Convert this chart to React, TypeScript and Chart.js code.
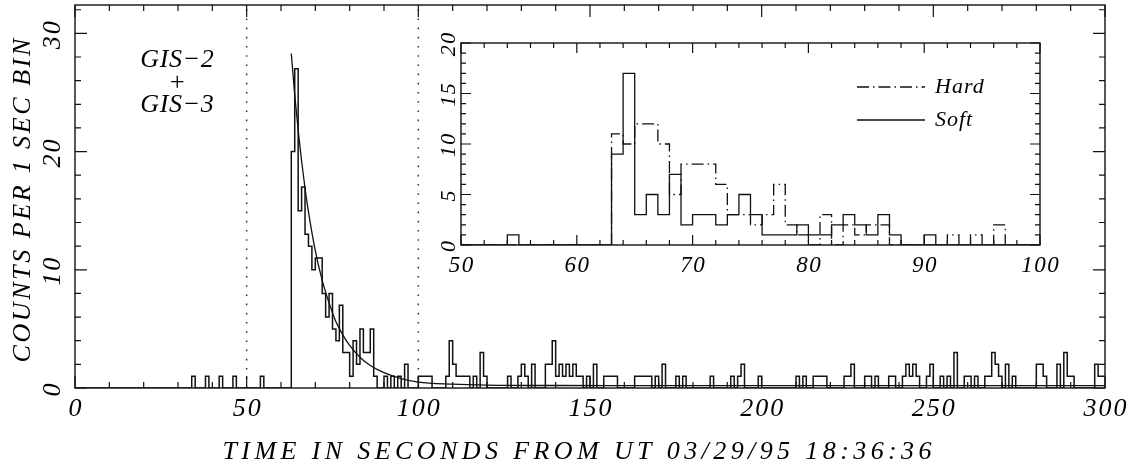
import React, { useEffect, useRef } from 'react';
import { Chart, registerables } from 'chart.js';

Chart.register(...registerables);

// ---------------- data ----------------
// main light curve: counts per 1 s bin, bins start at t = 0,1,2,...,299
const mainStart = 0;
const mainCounts = [
  0, 0, 0, 0, 0, 0, 0, 0, 0, 0,
  0, 0, 0, 0, 0, 0, 0, 0, 0, 0,
  0, 0, 0, 0, 0, 0, 0, 0, 0, 0,
  0, 0, 0, 0, 1, 0, 0, 0, 1, 0,
  0, 0, 1, 0, 0, 0, 1, 0, 0, 0,
  0, 0, 0, 0, 1, 0, 0, 0, 0, 0,
  0, 0, 0, 20, 27, 15, 17, 13, 12, 10,
  11, 11, 8, 6, 8, 5, 4, 7, 3, 3,
  1, 4, 2, 5, 3, 3, 5, 1, 0, 0,
  1, 0, 1, 0, 1, 0, 2, 0, 0, 0,
  1, 1, 1, 1, 0, 0, 0, 0, 1, 4,
  2, 1, 1, 1, 1, 0, 1, 0, 3, 1,
  0, 0, 0, 0, 0, 0, 1, 0, 0, 1,
  2, 1, 0, 2, 0, 0, 0, 2, 2, 4,
  1, 2, 1, 2, 1, 2, 1, 1, 0, 1,
  0, 2, 0, 0, 1, 1, 1, 1, 0, 0,
  0, 0, 0, 1, 1, 1, 1, 1, 0, 1,
  0, 2, 0, 0, 0, 1, 0, 1, 0, 0,
  0, 0, 0, 0, 0, 1, 0, 0, 0, 0,
  0, 1, 0, 1, 2, 0, 0, 0, 0, 1,
  0, 0, 0, 0, 0, 0, 0, 0, 0, 0,
  1, 0, 1, 0, 0, 1, 1, 1, 1, 0,
  0, 0, 0, 0, 1, 1, 2, 0, 0, 0,
  1, 1, 0, 1, 0, 0, 0, 1, 1, 0,
  0, 1, 2, 1, 2, 1, 0, 0, 1, 2,
  0, 0, 1, 0, 1, 0, 3, 0, 0, 1,
  1, 0, 1, 0, 0, 1, 1, 3, 2, 1,
  0, 2, 0, 1, 0, 0, 0, 0, 0, 0,
  2, 2, 1, 0, 0, 0, 2, 0, 3, 1,
  1, 0, 0, 0, 0, 0, 0, 2, 1, 1,
];

// fitted decay model
const modelTimes = [63, 64, 65, 66, 67, 68, 70, 72, 74, 76, 78, 80, 83, 86, 90, 95, 100, 110, 120, 140, 170, 300];
const modelCounts = [28.3, 24.8, 21.8, 19.2, 16.9, 14.9, 11.6, 9.1, 7.2, 5.6, 4.5, 3.6, 2.6, 1.9, 1.3, 0.8, 0.5, 0.33, 0.25, 0.21, 0.2, 0.2];

// dotted marker times
const markerTimes = [50, 100];

// inset: bins start at t = 50 ... 99
const insetStart = 50;
const hardCounts = [
  0, 0, 0, 0, 0, 0, 0, 0, 0, 0,
  0, 0, 0, 11, 10, 12, 12, 10, 5, 8,
  8, 8, 6, 3, 3, 2, 3, 6, 2, 1,
  0, 3, 0, 2, 1, 2, 2, 0, 0, 0,
  0, 0, 1, 0, 1, 0, 2, 0, 0, 0,
];
const softCounts = [
  0, 0, 0, 0, 1, 0, 0, 0, 0, 0,
  0, 0, 0, 9, 17, 3, 5, 3, 7, 2,
  3, 3, 2, 3, 5, 3, 1, 1, 1, 2,
  1, 1, 2, 3, 2, 1, 3, 1, 0, 0,
  1, 0, 0, 0, 0, 0, 0, 0, 0, 0,
];

// tick labels and texts
const mainXTicks = [0, 50, 100, 150, 200, 250, 300];
const mainYTicks = [0, 10, 20, 30];
const insetXTicks = [50, 60, 70, 80, 90, 100];
const insetYTicks = [0, 5, 10, 15, 20];
const detectorLines = ['GIS\u22122', '+', 'GIS\u22123'];
const legendLabels = ['Hard', 'Soft'];
const xTitle = 'TIME IN SECONDS FROM UT 03/29/95 18:36:36';
const yTitle = 'COUNTS PER 1 SEC BIN';

// ---------------- helpers ----------------
const FONT = '"Liberation Serif", "DejaVu Serif", serif';
const INK = '#111';
const HARD_DASH = [12, 4, 1.5, 4];

function histPoints(start: number, counts: number[]) {
  const pts = counts.map((c, i) => ({ x: start + i, y: c }));
  pts.push({ x: start + counts.length, y: counts[counts.length - 1] });
  return pts;
}

function drawText(
  ctx: CanvasRenderingContext2D,
  text: string,
  x: number,
  y: number,
  size: number,
  spacing = 0,
  rotate = false,
  align: CanvasTextAlign = 'center'
) {
  ctx.save();
  ctx.font = `italic ${size}px ${FONT}`;
  (ctx as any).letterSpacing = `${spacing}px`;
  ctx.textAlign = align;
  ctx.textBaseline = 'middle';
  ctx.fillStyle = '#000';
  const shift = align === 'center' ? spacing / 2 : 0;
  ctx.translate(x + (rotate ? 0 : shift), y + (rotate ? shift : 0));
  if (rotate) ctx.rotate(-Math.PI / 2);
  ctx.fillText(text, 0, 0);
  ctx.restore();
}

function drawFrame(
  chart: any,
  xr: [number, number, number, number],
  yr: [number, number, number, number],
  majorLen: number,
  minorLen: number
) {
  const ctx: CanvasRenderingContext2D = chart.ctx;
  const { left, right, top, bottom } = chart.chartArea;
  const xs = chart.scales.x;
  const ys = chart.scales.y;
  ctx.save();
  ctx.strokeStyle = INK;
  ctx.lineWidth = 1.4;
  ctx.strokeRect(left, top, right - left, bottom - top);
  ctx.lineWidth = 1.2;
  ctx.beginPath();
  const [x0, x1, xMinor, xMajor] = xr;
  for (let k = 0; x0 + k * xMinor <= x1 + 1e-9; k++) {
    const v = x0 + k * xMinor;
    const major = Math.abs(v / xMajor - Math.round(v / xMajor)) < 1e-6;
    const len = major ? majorLen : minorLen;
    const px = xs.getPixelForValue(v);
    ctx.moveTo(px, bottom);
    ctx.lineTo(px, bottom - len);
    ctx.moveTo(px, top);
    ctx.lineTo(px, top + len);
  }
  const [y0, y1, yMinor, yMajor] = yr;
  for (let k = 0; y0 + k * yMinor <= y1 + 1e-9; k++) {
    const v = y0 + k * yMinor;
    const major = Math.abs(v / yMajor - Math.round(v / yMajor)) < 1e-6;
    const len = major ? majorLen : minorLen;
    const py = ys.getPixelForValue(v);
    ctx.moveTo(left, py);
    ctx.lineTo(left + len, py);
    ctx.moveTo(right, py);
    ctx.lineTo(right - len, py);
  }
  ctx.stroke();
  ctx.restore();
}

const MAIN_Y_MAX = 32.4;

const mainDecor = {
  id: 'mainDecor',
  afterDraw(chart: any) {
    const ctx: CanvasRenderingContext2D = chart.ctx;
    const xs = chart.scales.x;
    const ys = chart.scales.y;
    drawFrame(chart, [0, 300, 10, 50], [0, MAIN_Y_MAX, 2, 10], 12, 6);
    mainXTicks.forEach((v) => drawText(ctx, String(v), xs.getPixelForValue(v), 409, 26, 2));
    mainYTicks.forEach((v) => drawText(ctx, String(v), 53, ys.getPixelForValue(v), 26, 2, true));
    drawText(ctx, xTitle, 577, 452, 26, 4.4);
    drawText(ctx, yTitle, 23, 198, 26, 2.6, true);
    const gy = [60, 83, 105];
    detectorLines.forEach((s, i) => drawText(ctx, s, 177, gy[i], 26, 0.6));
  },
};

const insetDecor = {
  id: 'insetDecor',
  afterDraw(chart: any) {
    const ctx: CanvasRenderingContext2D = chart.ctx;
    const xs = chart.scales.x;
    const ys = chart.scales.y;
    drawFrame(chart, [50, 100, 2, 10], [0, 20, 1, 5], 10, 5);
    const { left, bottom } = chart.chartArea;
    insetXTicks.forEach((v) => drawText(ctx, String(v), xs.getPixelForValue(v), bottom + 21, 23, 1.5));
    insetYTicks.forEach((v) => drawText(ctx, String(v), left - 12, ys.getPixelForValue(v), 22, 1.5, true));
    // legend
    const lx0 = 457, lx1 = 525, tx = 535;
    const ly = [59, 92];
    ctx.save();
    ctx.strokeStyle = INK;
    ctx.lineWidth = 1.3;
    ctx.setLineDash(HARD_DASH);
    ctx.beginPath();
    ctx.moveTo(lx0, ly[0]);
    ctx.lineTo(lx1, ly[0]);
    ctx.stroke();
    ctx.setLineDash([]);
    ctx.beginPath();
    ctx.moveTo(lx0, ly[1]);
    ctx.lineTo(lx1, ly[1]);
    ctx.stroke();
    ctx.restore();
    legendLabels.forEach((s, i) => drawText(ctx, s, tx, ly[i], 22, 1, false, 'left'));
  },
};

const hidden = { display: false };

export default function App() {
  const mainRef = useRef<HTMLCanvasElement>(null);
  const insetRef = useRef<HTMLCanvasElement>(null);

  useEffect(() => {
    const main = new Chart(mainRef.current!, {
      type: 'line',
      data: {
        datasets: [
          {
            data: histPoints(mainStart, mainCounts),
            stepped: 'before',
            borderColor: INK,
            borderWidth: 1.5,
            pointRadius: 0,
            fill: false,
          },
          {
            data: modelTimes.map((t, i) => ({ x: t, y: modelCounts[i] })),
            cubicInterpolationMode: 'monotone',
            tension: 0.4,
            borderColor: INK,
            borderWidth: 1.3,
            pointRadius: 0,
            fill: false,
          },
          ...markerTimes.map((t) => ({
            data: [
              { x: t, y: 0 },
              { x: t, y: MAIN_Y_MAX },
            ],
            borderColor: '#333',
            borderWidth: 1.5,
            borderDash: [1.6, 7.6],
            pointRadius: 0,
            fill: false,
          })),
        ] as any,
      },
      options: {
        animation: false,
        responsive: true,
        maintainAspectRatio: false,
        events: [],
        layout: { padding: { left: 75, right: 28, top: 5, bottom: 86 } },
        scales: {
          x: { type: 'linear', min: 0, max: 300, ...hidden },
          y: { type: 'linear', min: 0, max: MAIN_Y_MAX, ...hidden },
        },
        plugins: { legend: { display: false }, tooltip: { enabled: false } },
      },
      plugins: [mainDecor],
    });

    const inset = new Chart(insetRef.current!, {
      type: 'line',
      data: {
        datasets: [
          {
            data: histPoints(insetStart, hardCounts),
            stepped: 'before',
            borderColor: INK,
            borderWidth: 1.3,
            borderDash: HARD_DASH,
            pointRadius: 0,
            fill: false,
          },
          {
            data: histPoints(insetStart, softCounts),
            stepped: 'before',
            borderColor: INK,
            borderWidth: 1.3,
            pointRadius: 0,
            fill: false,
          },
        ] as any,
      },
      options: {
        animation: false,
        responsive: true,
        maintainAspectRatio: false,
        events: [],
        layout: { padding: { left: 61, right: 40, top: 15, bottom: 45 } },
        scales: {
          x: { type: 'linear', min: 50, max: 100, ...hidden },
          y: { type: 'linear', min: 0, max: 20, ...hidden },
        },
        plugins: { legend: { display: false }, tooltip: { enabled: false } },
      },
      plugins: [insetDecor],
    });

    return () => {
      main.destroy();
      inset.destroy();
    };
  }, []);

  return (
    <div style={{ position: 'fixed', left: 0, top: 0, width: 1133, height: 474, background: '#fff' }}>
      <div style={{ position: 'absolute', left: 0, top: 0, width: 1133, height: 474 }}>
        <canvas ref={mainRef} />
      </div>
      <div style={{ position: 'absolute', left: 400, top: 28, width: 680, height: 262 }}>
        <canvas ref={insetRef} />
      </div>
    </div>
  );
}
